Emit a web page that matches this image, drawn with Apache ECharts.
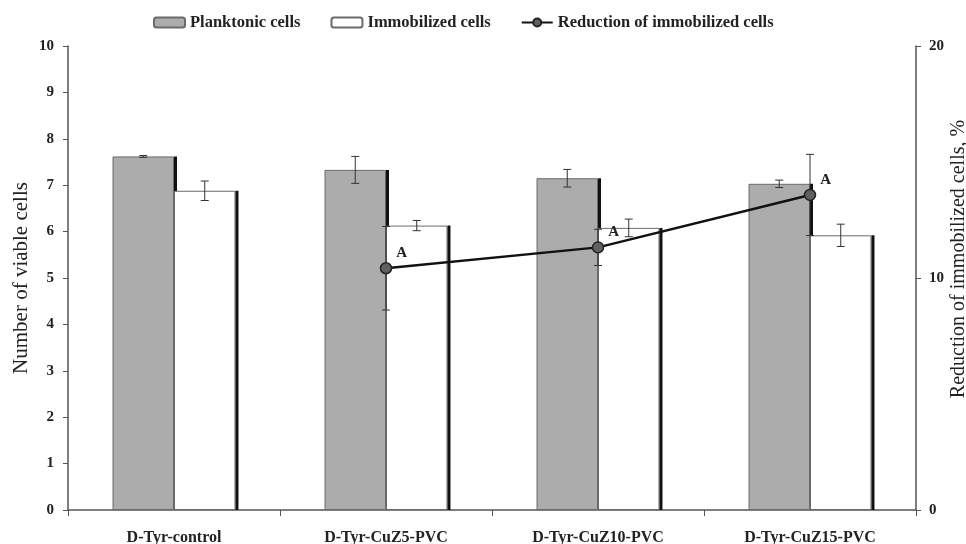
<!DOCTYPE html>
<html><head><meta charset="utf-8">
<script src="https://cdn.jsdelivr.net/npm/echarts@6/dist/echarts.min.js"></script>
<style>html,body{margin:0;padding:0;background:#fff}#c{width:966px;height:544px}</style>
</head><body><div id="c"></div>
<script>
var categories = ['D-Tyr-control', 'D-Tyr-CuZ5-PVC', 'D-Tyr-CuZ10-PVC', 'D-Tyr-CuZ15-PVC'];
var planktonic = [7.62, 7.33, 7.15, 7.03];
var planktonicErr = [0.02, 0.29, 0.19, 0.08];
var immobilized = [6.88, 6.13, 6.08, 5.92];
var immobilizedErr = [0.21, 0.11, 0.19, 0.24];
var reduction = [null, 10.42, 11.32, 13.58];
var reductionErr = [null, 1.8, 0.78, 1.75];
var leftTicks = [0, 1, 2, 3, 4, 5, 6, 7, 8, 9, 10];
var rightTicks = [0, 10, 20];

var FONT = 'Liberation Serif';
var BARW = 0.29;

function errData(vals, errs) {
  var out = [];
  for (var i = 0; i < vals.length; i++) {
    if (vals[i] != null) out.push([i, vals[i] - errs[i], vals[i] + errs[i]]);
  }
  return out;
}
function valData(vals) {
  return vals.map(function (v, i) { return [i, v]; });
}
function errRender(offsetFrac, cap) {
  return function (params, api) {
    var band = api.size([1, 0])[0];
    var x = api.coord([api.value(0), 0])[0] + offsetFrac * band;
    var lo = api.coord([api.value(0), api.value(1)])[1];
    var hi = api.coord([api.value(0), api.value(2)])[1];
    var st = { stroke: '#333', lineWidth: 1 };
    return {
      type: 'group',
      children: [
        { type: 'line', shape: { x1: x, y1: lo, x2: x, y2: hi }, style: st },
        { type: 'line', shape: { x1: x - cap, y1: lo, x2: x + cap, y2: lo }, style: st },
        { type: 'line', shape: { x1: x - cap, y1: hi, x2: x + cap, y2: hi }, style: st }
      ]
    };
  };
}
// dark right-hand edge (shadow) of a bar
function edgeRender(offsetFrac) {
  return function (params, api) {
    var band = api.size([1, 0])[0];
    var x = api.coord([api.value(0), 0])[0] + offsetFrac * band + 1.5;
    var top = api.coord([api.value(0), api.value(1)])[1];
    var base = api.coord([api.value(0), 0])[1];
    return { type: 'line', shape: { x1: x, y1: top, x2: x, y2: base },
      style: { stroke: '#111', lineWidth: 3 } };
  };
}

var chart = echarts.init(document.getElementById('c'));
chart.setOption({
  animation: false,
  textStyle: { fontFamily: FONT },
  legend: {
    top: 9,
    left: 148,
    itemGap: 30,
    itemWidth: 31,
    itemHeight: 10,
    textStyle: { fontFamily: FONT, fontWeight: 'bold', fontSize: 16.5, color: '#222' },
    data: [
      { name: 'Planktonic cells' },
      { name: 'Immobilized cells' },
      { name: 'Reduction of immobilized cells' }
    ]
  },
  grid: { left: 68, right: 50, top: 46, bottom: 34, outerBoundsMode: 'none', containLabel: false },
  xAxis: {
    type: 'category',
    data: categories,
    axisLine: { lineStyle: { color: '#555', width: 1.5 } },
    axisTick: { show: true, length: 6, lineStyle: { color: '#555' } },
    axisLabel: { fontFamily: FONT, fontWeight: 'bold', fontSize: 16, color: '#222', margin: 20 }
  },
  yAxis: [
    {
      type: 'value', min: 0, max: 10, interval: 1,
      name: 'Number of viable cells', nameLocation: 'middle', nameGap: 36,
      nameMoveOverlap: false,
      nameTextStyle: { fontFamily: FONT, fontSize: 21, color: '#222' },
      axisLine: { show: true, lineStyle: { color: '#555', width: 1.5 } },
      axisTick: { show: true, length: 5, lineStyle: { color: '#555' } },
      axisLabel: { fontFamily: FONT, fontWeight: 'bold', fontSize: 15, color: '#222', margin: 14 },
      splitLine: { show: false }
    },
    {
      type: 'value', min: 0, max: 20, interval: 10,
      name: 'Reduction of immobilized cells, %', nameLocation: 'middle', nameGap: 33,
      nameRotate: 90, nameMoveOverlap: false,
      nameTextStyle: { fontFamily: FONT, fontSize: 20, color: '#222', padding: [0, 0, 0, 38] },
      axisLine: { show: true, lineStyle: { color: '#555', width: 1.5 } },
      axisTick: { show: true, length: 5, lineStyle: { color: '#555' } },
      axisLabel: { fontFamily: FONT, fontWeight: 'bold', fontSize: 15, color: '#222', margin: 13 },
      splitLine: { show: false }
    }
  ],
  series: [
    {
      name: 'Planktonic cells', type: 'bar', data: planktonic,
      barWidth: (BARW * 100) + '%', barGap: '0%',
      itemStyle: { color: '#acacac', borderColor: '#6a6a6a', borderWidth: 1 },
      z: 2
    },
    {
      name: 'Immobilized cells', type: 'bar', data: immobilized,
      barWidth: (BARW * 100) + '%', barGap: '0%',
      itemStyle: { color: '#ffffff', borderColor: '#6a6a6a', borderWidth: 1 },
      z: 4
    },
    {
      name: 'planktonicEdge', type: 'custom', data: valData(planktonic),
      renderItem: edgeRender(0), z: 3, silent: true
    },
    {
      name: 'immobilizedEdge', type: 'custom', data: valData(immobilized),
      renderItem: edgeRender(BARW), z: 5, silent: true
    },
    {
      name: 'planktonicErr', type: 'custom', data: errData(planktonic, planktonicErr),
      renderItem: errRender(-BARW / 2, 4), z: 6, silent: true
    },
    {
      name: 'immobilizedErr', type: 'custom', data: errData(immobilized, immobilizedErr),
      renderItem: errRender(BARW / 2, 4), z: 6, silent: true
    },
    {
      name: 'reductionErr', type: 'custom', yAxisIndex: 1, data: errData(reduction, reductionErr),
      renderItem: errRender(0, 4), z: 7, silent: true
    },
    {
      name: 'Reduction of immobilized cells', type: 'line', yAxisIndex: 1, data: reduction,
      connectNulls: false,
      symbol: 'circle', symbolSize: 11,
      lineStyle: { color: '#111', width: 2.5 },
      itemStyle: { color: '#606060', borderColor: '#222', borderWidth: 1.5 },
      label: { show: true, formatter: 'A', position: 'right', offset: [-1, -15],
        fontFamily: FONT, fontWeight: 'bold', fontSize: 15, color: '#222' },
      z: 10
    }
  ]
});
</script>
</body></html>
